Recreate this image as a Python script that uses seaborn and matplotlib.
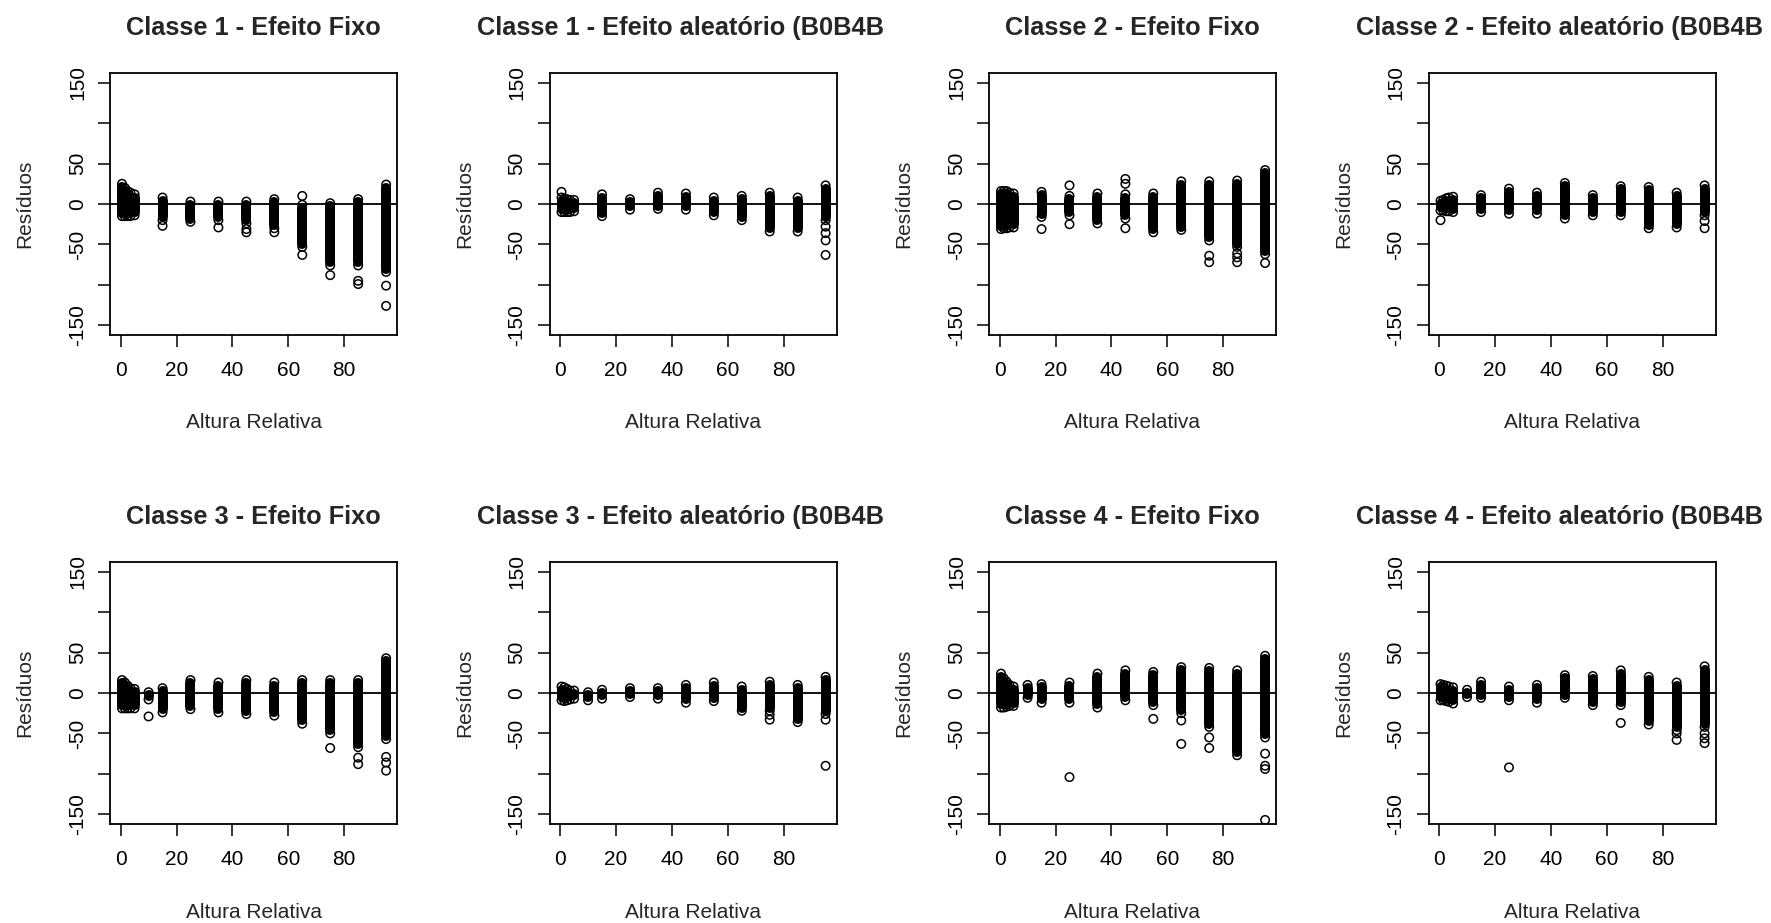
import numpy as np
import pandas as pd
import matplotlib
matplotlib.use("Agg")
import matplotlib.pyplot as plt
import seaborn as sns

# ---------------- data ----------------
# x positions (Altura Relativa) of the residual columns
x_c12 = [0.5, 1.5, 2.5, 3.5, 5, 15, 25, 35, 45, 55, 65, 75, 85, 95]
x_c34 = [0.5, 1.5, 2.5, 3.5, 5, 10, 15, 25, 35, 45, 55, 65, 75, 85, 95]

titles = [
    "Classe 1 - Efeito Fixo", "Classe 1 - Efeito aleatório (B0B4B",
    "Classe 2 - Efeito Fixo", "Classe 2 - Efeito aleatório (B0B4B",
    "Classe 3 - Efeito Fixo", "Classe 3 - Efeito aleatório (B0B4B",
    "Classe 4 - Efeito Fixo", "Classe 4 - Efeito aleatório (B0B4B",
]

# dense range (min / max residual) of each column, plus isolated residuals
c1_fixo_lo = [-15, -15, -15, -15, -14, -20, -22, -20, -24, -30, -53, -76, -76, -84]
c1_fixo_hi = [25, 20, 16, 14, 12, 8, 3, 3, 3, 6, -1, 1, 6, 24]
c1_fixo_out_x = [15, 35, 45, 45, 55, 65, 65, 75, 85, 85, 95, 95]
c1_fixo_out_y = [-27, -29, -31, -35, -35, 10, -63, -88, -95, -99, -101, -126]

c1_alea_lo = [-10, -10, -10, -10, -9, -15, -7, -6, -7, -14, -20, -34, -34, -20]
c1_alea_hi = [8, 7, 6, 5, 5, 12, 6, 14, 13, 8, 10, 14, 8, 23]
c1_alea_out_x = [0.5, 95, 95, 95, 95]
c1_alea_out_y = [15, -28, -36, -45, -63]

c2_fixo_lo = [-31, -30, -30, -29, -29, -16, -14, -24, -18, -35, -32, -45, -53, -62]
c2_fixo_hi = [16, 16, 16, 14, 13, 15, 10, 13, 12, 13, 28, 28, 29, 42]
c2_fixo_out_x = [15, 25, 25, 45, 45, 45, 75, 75, 85, 85, 85, 95]
c2_fixo_out_y = [-31, 23, -25, 25, 31, -30, -64, -72, -61, -66, -72, -73]

c2_alea_lo = [-8, -8, -9, -9, -10, -10, -12, -12, -18, -14, -14, -30, -29, -14]
c2_alea_hi = [4, 5, 7, 8, 9, 11, 19, 14, 26, 11, 22, 21, 14, 23]
c2_alea_out_x = [0.5, 95, 95]
c2_alea_out_y = [-20, -21, -30]

c3_fixo_lo = [-19, -19, -19, -19, -19, -8, -24, -20, -24, -26, -28, -38, -50, -67, -57]
c3_fixo_hi = [16, 13, 9, 6, 5, 1, 6, 16, 13, 16, 13, 16, 16, 16, 43]
c3_fixo_out_x = [10, 75, 85, 85, 95, 95, 95]
c3_fixo_out_y = [-29, -68, -80, -88, -79, -86, -96]

c3_alea_lo = [-9, -10, -9, -8, -7, -9, -7, -5, -7, -12, -10, -22, -22, -36, -26]
c3_alea_hi = [8, 7, 5, 3, 3, 1, 4, 6, 6, 10, 13, 8, 14, 10, 20]
c3_alea_out_x = [75, 75, 95, 95]
c3_alea_out_y = [-27, -33, -33, -90]

c4_fixo_lo = [-18, -18, -17, -16, -16, -6, -12, -12, -18, -9, -15, -25, -42, -77, -55]
c4_fixo_hi = [24, 18, 14, 10, 8, 10, 11, 13, 24, 28, 26, 32, 31, 28, 46]
c4_fixo_out_x = [25, 55, 65, 65, 75, 75, 95, 95, 95, 95]
c4_fixo_out_y = [-104, -32, -34, -63, -55, -68, -75, -90, -94, -157]

c4_alea_lo = [-9, -9, -10, -11, -13, -5, -6, -9, -12, -6, -15, -15, -39, -46, -42]
c4_alea_hi = [11, 10, 9, 8, 7, 4, 14, 8, 10, 22, 21, 28, 20, 13, 33]
c4_alea_out_x = [25, 65, 85, 85, 95, 95, 95]
c4_alea_out_y = [-92, -37, -50, -58, -50, -56, -62]

x_ticks = [0, 20, 40, 60, 80]
y_ticks = [-150, -100, -50, 0, 50, 100, 150]
y_ticklabels = ["-150", "", "-50", "0", "50", "", "150"]
x_label = "Altura Relativa"
y_label = "Resíduos"

# ---------------- style ----------------
sns.set_style("white")
plt.rcParams['font.family'] = ['Liberation Sans', 'DejaVu Sans']

W, H = 1771, 923
fig = plt.figure(figsize=(W / 100, H / 100), dpi=100)
fig.patch.set_facecolor("white")

lefts = [110, 549.5, 989, 1428.5]
tops = [73, 562]
aw, ah = 287, 262

panels = [
    (x_c12, c1_fixo_lo, c1_fixo_hi, c1_fixo_out_x, c1_fixo_out_y),
    (x_c12, c1_alea_lo, c1_alea_hi, c1_alea_out_x, c1_alea_out_y),
    (x_c12, c2_fixo_lo, c2_fixo_hi, c2_fixo_out_x, c2_fixo_out_y),
    (x_c12, c2_alea_lo, c2_alea_hi, c2_alea_out_x, c2_alea_out_y),
    (x_c34, c3_fixo_lo, c3_fixo_hi, c3_fixo_out_x, c3_fixo_out_y),
    (x_c34, c3_alea_lo, c3_alea_hi, c3_alea_out_x, c3_alea_out_y),
    (x_c34, c4_fixo_lo, c4_fixo_hi, c4_fixo_out_x, c4_fixo_out_y),
    (x_c34, c4_alea_lo, c4_alea_hi, c4_alea_out_x, c4_alea_out_y),
]

LW = 1.3
INSET = 4.0

for i, (xs, lo, hi, ox, oy) in enumerate(panels):
    r, c = divmod(i, 4)
    ax = fig.add_axes([lefts[c] / W, (H - tops[r] - ah) / H, aw / W, ah / H])

    # dense column of overlapping circles
    ax.vlines(xs, np.array(lo) + INSET, np.array(hi) - INSET, color="black",
              linewidth=7.2, capstyle="round", zorder=2)
    # open circles: column extremes + isolated residuals
    df = pd.DataFrame({
        "x": list(xs) + list(xs) + list(ox),
        "y": list(lo) + list(hi) + list(oy),
    })
    sns.scatterplot(data=df, x="x", y="y", ax=ax, marker="o", s=37,
                    facecolor="none", edgecolor="black", linewidth=1.1,
                    zorder=3, legend=False)
    ax.axhline(0, color="black", linewidth=LW, zorder=1)

    ax.set_xlim(-3.8, 98.9)
    ax.set_ylim(-162, 162)
    ax.set_xticks(x_ticks)
    ax.set_xticklabels([str(v) for v in x_ticks])
    ax.set_yticks(y_ticks)
    ax.set_yticklabels(y_ticklabels)
    ax.tick_params(axis="both", direction="out", length=8.6, width=1.1,
                   labelsize=15, colors="black", left=True, bottom=True)
    ax.tick_params(axis="x", pad=10)
    ax.tick_params(axis="y", pad=8)
    for lbl in ax.get_yticklabels():
        lbl.set_rotation(90)
        lbl.set_va("center")
    for sp in ax.spines.values():
        sp.set_visible(True)
        sp.set_color("black")
        sp.set_linewidth(LW)

    ax.set_xlabel(x_label, fontsize=15)
    ax.xaxis.label.set_va("center")
    ax.xaxis.set_label_coords(0.5, -88 / ah)
    ax.set_ylabel(y_label, fontsize=15)
    ax.yaxis.label.set_va("center")
    ax.yaxis.set_label_coords(-85 / aw, 0.5)

    if c % 2 == 0:
        ax.set_title(titles[i], fontsize=18.3, fontweight="bold", pad=27.4)
    else:
        ax.set_title(titles[i], fontsize=18.3, fontweight="bold", pad=27.4,
                     loc="left", x=-0.254)

fig.savefig("out.png", dpi=100, facecolor="white")
